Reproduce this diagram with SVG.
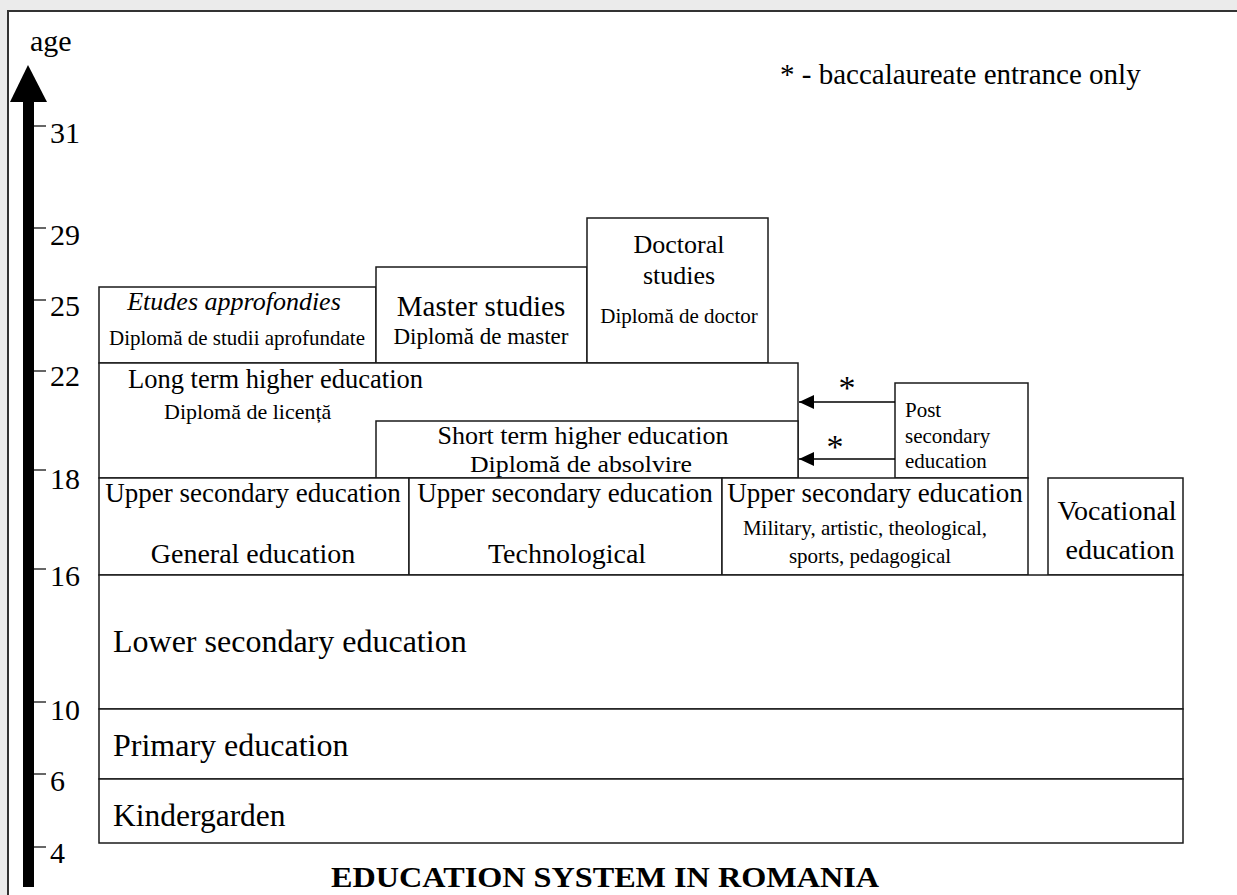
<svg xmlns="http://www.w3.org/2000/svg" width="1237" height="895" viewBox="0 0 1237 895">
<style>
  text { font-family: "Liberation Serif", "Times New Roman", serif; fill: #000; }
  .box { fill: #fff; stroke: #1a1a1a; stroke-width: 1.5; }
  .tick { stroke: #000; stroke-width: 1.2; }
  .num { font-size: 30px; }
  .big { font-size: 32px; }
  .mid { font-size: 27px; }
  .sm { font-size: 21px; }
  .c { text-anchor: middle; }
  .conn { stroke: #000; stroke-width: 1.5; fill: none; }
</style>
<defs>
  <marker id="ah" markerWidth="16" markerHeight="14" refX="15" refY="7" orient="auto" markerUnits="userSpaceOnUse">
    <path d="M0,0 L15,7 L0,14 Z" fill="#000"/>
  </marker>
</defs>
<rect x="0" y="0" width="1237" height="895" fill="#ebebeb"/>
<rect x="8" y="11" width="1240" height="900" fill="#fff" stroke="#333" stroke-width="2"/>

<g id="axis">
  <rect x="23" y="98" width="11" height="789" fill="#000"/>
  <path d="M28,65 L47,102 L10,102 Z" fill="#000"/>
  <text x="30" y="51" style="font-size:30px">age</text>
  <line class="tick" x1="34" y1="126" x2="46" y2="126"/><text class="num" x="50" y="143">31</text>
  <line class="tick" x1="34" y1="228" x2="46" y2="228"/><text class="num" x="50" y="245">29</text>
  <line class="tick" x1="34" y1="300" x2="46" y2="300"/><text class="num" x="50" y="316">25</text>
  <line class="tick" x1="34" y1="371" x2="46" y2="371"/><text class="num" x="50" y="386">22</text>
  <line class="tick" x1="34" y1="470" x2="46" y2="470"/><text class="num" x="50" y="489">18</text>
  <line class="tick" x1="34" y1="569" x2="46" y2="569"/><text class="num" x="50" y="586">16</text>
  <line class="tick" x1="34" y1="702" x2="46" y2="702"/><text class="num" x="50" y="720">10</text>
  <line class="tick" x1="34" y1="774" x2="46" y2="774"/><text class="num" x="50" y="791">6</text>
  <line class="tick" x1="34" y1="847" x2="46" y2="847"/><text class="num" x="50" y="863">4</text>
</g>

<g id="legend">
  <text x="780" y="84" style="font-size:29px">* - baccalaureate entrance only</text>
</g>

<g id="etudes">
  <rect class="box" x="99" y="287" width="277" height="76"/>
  <text class="c" x="234" y="310" style="font-size:26px;font-style:italic">Etudes approfondies</text>
  <text class="c sm" x="237" y="345">Diplomă de studii aprofundate</text>
</g>

<g id="master">
  <rect class="box" x="376" y="267" width="211" height="96"/>
  <text class="c" x="481" y="316" style="font-size:29px">Master studies</text>
  <text class="c" x="481" y="344" style="font-size:23px">Diplomă de master</text>
</g>

<g id="doctoral">
  <rect class="box" x="587" y="218" width="181" height="145"/>
  <text class="c" x="679" y="253" style="font-size:26px">Doctoral</text>
  <text class="c" x="679" y="284" style="font-size:26px">studies</text>
  <text class="c sm" x="679" y="323">Diplomă de doctor</text>
</g>

<g id="long-term">
  <rect class="box" x="99" y="363" width="699" height="115"/>
  <text x="128" y="388" style="font-size:26.5px">Long term higher education</text>
  <text x="164" y="419" style="font-size:22px">Diplomă de licență</text>
</g>

<g id="short-term">
  <rect class="box" x="376" y="421" width="422" height="57"/>
  <text class="c" x="583" y="444" style="font-size:26px">Short term higher education</text>
  <text class="c" x="581" y="472" style="font-size:23px" textLength="222" lengthAdjust="spacingAndGlyphs">Diplomă de absolvire</text>
</g>

<g id="post-secondary">
  <rect class="box" x="895" y="383" width="133" height="95"/>
  <text class="sm" x="905" y="417">Post</text>
  <text class="sm" x="905" y="443">secondary</text>
  <text class="sm" x="905" y="468">education</text>
</g>

<g id="upper-general">
  <rect class="box" x="99" y="478" width="310" height="97"/>
  <text class="c mid" x="253" y="502">Upper secondary education</text>
  <text class="c" x="253" y="563" style="font-size:28px">General education</text>
</g>

<g id="upper-technological">
  <rect class="box" x="409" y="478" width="313" height="97"/>
  <text class="c mid" x="565" y="502">Upper secondary education</text>
  <text class="c" x="567" y="563" style="font-size:28px">Technological</text>
</g>

<g id="upper-special">
  <rect class="box" x="722" y="478" width="306" height="97"/>
  <text class="c mid" x="875" y="502">Upper secondary education</text>
  <text class="c sm" x="865" y="535">Military, artistic, theological,</text>
  <text class="c sm" x="870" y="563">sports, pedagogical</text>
</g>

<g id="vocational">
  <rect class="box" x="1048" y="478" width="135" height="97"/>
  <text class="c" x="1117" y="520" style="font-size:28px">Vocational</text>
  <text class="c" x="1120" y="559" style="font-size:28px">education</text>
</g>

<g id="lower-secondary">
  <rect class="box" x="99" y="575" width="1084" height="134"/>
  <text class="big" x="113" y="652">Lower secondary education</text>
</g>

<g id="primary">
  <rect class="box" x="99" y="709" width="1084" height="70"/>
  <text class="big" x="113" y="756">Primary education</text>
</g>

<g id="kindergarden">
  <rect class="box" x="99" y="779" width="1084" height="64"/>
  <text x="113" y="826" style="font-size:31.5px">Kindergarden</text>
</g>

<g id="title">
  <text class="c" x="605" y="887" style="font-size:30px;font-weight:bold" textLength="548" lengthAdjust="spacingAndGlyphs">EDUCATION SYSTEM IN ROMANIA</text>
</g>

<g id="connectors">
  <line class="conn" x1="895" y1="402" x2="799" y2="402" marker-end="url(#ah)"/>
  <line class="conn" x1="895" y1="459" x2="799" y2="459" marker-end="url(#ah)"/>
  <text class="c" x="847" y="399" style="font-size:34px">*</text>
  <text class="c" x="835" y="458" style="font-size:34px">*</text>
</g>
</svg>
